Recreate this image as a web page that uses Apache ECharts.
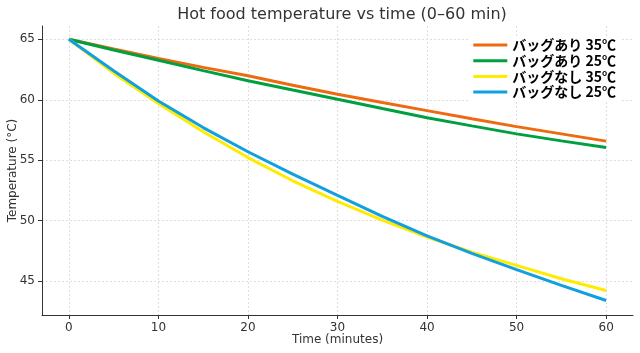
<!DOCTYPE html>
<html>
<head>
<meta charset="utf-8">
<script src="https://cdn.jsdelivr.net/npm/echarts@6/dist/echarts.min.js"></script>
<style>
  html, body { margin: 0; padding: 0; background: #fff; }
  #chart { width: 640px; height: 353px; }
</style>
</head>
<body>
<div id="chart"></div>
<script>
/* data */
var minutes = [0, 5, 10, 15, 20, 25, 30, 35, 40, 45, 50, 55, 60];
var bag35 = [65, 64.2, 63.41, 62.68, 61.98, 61.2, 60.45, 59.77, 59.1, 58.43, 57.78, 57.18, 56.58];
var bag25 = [65, 64.12, 63.27, 62.41, 61.57, 60.8, 60.04, 59.27, 58.52, 57.84, 57.18, 56.6, 56.05];
var noBag35 = [65, 62.2, 59.7, 57.35, 55.22, 53.3, 51.6, 50.05, 48.65, 47.4, 46.3, 45.2, 44.22];
var noBag25 = [65, 62.4, 59.9, 57.7, 55.7, 53.85, 52.1, 50.35, 48.75, 47.3, 45.95, 44.65, 43.4];
var seriesNames = ['バッグあり 35℃', 'バッグあり 25℃', 'バッグなし 35℃', 'バッグなし 25℃'];
var xTicks = [0, 10, 20, 30, 40, 50, 60];
var yTicks = [45, 50, 55, 60, 65];

var colors = ['#EE6A10', '#00A040', '#FFEB00', '#10A0E0'];
var values = [bag35, bag25, noBag35, noBag25];

function pairs(arr){
  return minutes.map(function(m, i){ return [m, arr[i]]; });
}

var series = values.map(function(v, i){
  return {
    name: seriesNames[i],
    type: 'line',
    data: pairs(v),
    showSymbol: false,
    lineStyle: { width: 3, color: colors[i] },
    itemStyle: { color: colors[i] },
    z: 3
  };
});

var gridLine = { show: true, lineStyle: { color: '#d6d6d6', type: [2, 2], width: 0.8 } };

var option = {
  animation: false,
  backgroundColor: '#fff',
  title: {
    text: 'Hot food temperature vs time (0–60 min)',
    left: 337,
    textAlign: 'center',
    top: 2,
    textStyle: { fontFamily: 'DejaVu Sans', fontSize: 16, fontWeight: 'normal', color: '#333' }
  },
  legend: {
    orient: 'vertical',
    right: 20,
    top: 36,
    itemWidth: 34,
    itemHeight: 3,
    itemGap: 1.7,
    icon: 'rect',
    backgroundColor: '#fff',
    padding: [2, 4, 2, 4],
    textStyle: { fontFamily: 'Noto Sans CJK JP', fontSize: 14, lineHeight: 13, fontWeight: 'bold', color: '#000' },
    data: seriesNames
  },
  grid: { left: 42, right: 7, top: 26, bottom: 38, outerBoundsMode: 'none' },
  xAxis: {
    type: 'value',
    min: -3,
    max: 63,
    name: 'Time (minutes)',
    nameLocation: 'middle',
    nameGap: 19,
    nameMoveOverlap: false,
    nameTextStyle: { fontFamily: 'DejaVu Sans', fontSize: 12, color: '#333' },
    axisLine: { show: true, onZero: false, lineStyle: { color: '#333', width: 1 } },
    axisTick: { show: true, length: 4, customValues: xTicks, lineStyle: { color: '#333' } },
    axisLabel: { customValues: xTicks, fontFamily: 'DejaVu Sans', fontSize: 12, color: '#333', margin: 7 },
    splitLine: gridLine
  },
  yAxis: {
    type: 'value',
    min: 42.2,
    max: 66.1,
    name: 'Temperature (°C)',
    nameLocation: 'middle',
    nameGap: 23,
    nameMoveOverlap: false,
    nameTextStyle: { fontFamily: 'DejaVu Sans', fontSize: 12, color: '#333' },
    axisLine: { show: true, onZero: false, lineStyle: { color: '#333', width: 1 } },
    axisTick: { show: true, length: 4, customValues: yTicks, lineStyle: { color: '#333' } },
    axisLabel: { customValues: yTicks, fontFamily: 'DejaVu Sans', fontSize: 12, color: '#333', margin: 7 },
    splitLine: gridLine
  },
  series: series
};

var chart = echarts.init(document.getElementById('chart'));
chart.setOption(option);
window.addEventListener('resize', function(){
  chart.resize();
});
</script>
</body>
</html>
